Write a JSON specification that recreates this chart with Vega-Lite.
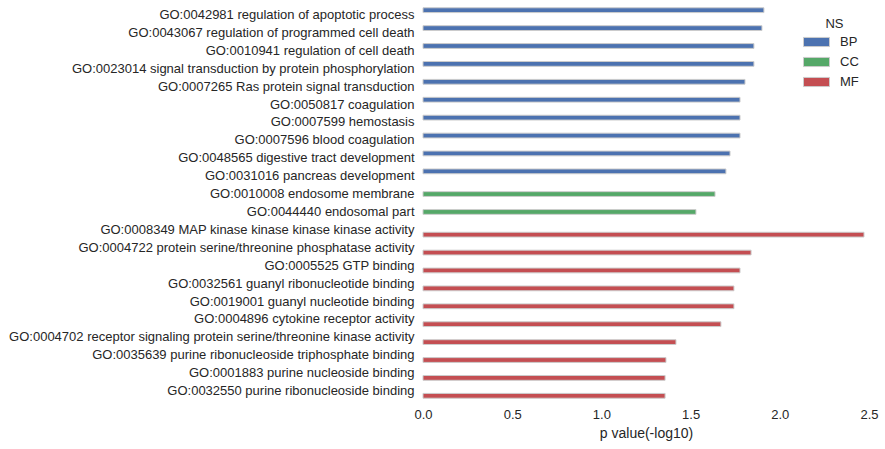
{
  "$schema": "https://vega.github.io/schema/vega-lite/v6.json",
  "width": 446,
  "height": 394,
  "autosize": "none",
  "padding": {"left": 423, "top": 6, "right": 16, "bottom": 49},
  "background": "white",
  "config": {
    "view": {"stroke": null},
    "font": "Liberation Sans",
    "axis": {"grid": false, "domain": false, "ticks": false, "labelColor": "#262626", "titleColor": "#262626", "labelFont": "Liberation Sans", "titleFont": "Liberation Sans"},
    "legend": {"labelFont": "Liberation Sans", "titleFont": "Liberation Sans"}
  },
  "data": {
    "values": [
      {"term": "GO:0042981 regulation of apoptotic process", "NS": "BP", "p": 1.911},
      {"term": "GO:0043067 regulation of programmed cell death", "NS": "BP", "p": 1.900},
      {"term": "GO:0010941 regulation of cell death", "NS": "BP", "p": 1.855},
      {"term": "GO:0023014 signal transduction by protein phosphorylation", "NS": "BP", "p": 1.855},
      {"term": "GO:0007265 Ras protein signal transduction", "NS": "BP", "p": 1.805},
      {"term": "GO:0050817 coagulation", "NS": "BP", "p": 1.777},
      {"term": "GO:0007599 hemostasis", "NS": "BP", "p": 1.777},
      {"term": "GO:0007596 blood coagulation", "NS": "BP", "p": 1.777},
      {"term": "GO:0048565 digestive tract development", "NS": "BP", "p": 1.721},
      {"term": "GO:0031016 pancreas development", "NS": "BP", "p": 1.698},
      {"term": "GO:0010008 endosome membrane", "NS": "CC", "p": 1.637},
      {"term": "GO:0044440 endosomal part", "NS": "CC", "p": 1.530},
      {"term": "GO:0008349 MAP kinase kinase kinase kinase activity", "NS": "MF", "p": 2.472},
      {"term": "GO:0004722 protein serine/threonine phosphatase activity", "NS": "MF", "p": 1.839},
      {"term": "GO:0005525 GTP binding", "NS": "MF", "p": 1.777},
      {"term": "GO:0032561 guanyl ribonucleotide binding", "NS": "MF", "p": 1.743},
      {"term": "GO:0019001 guanyl nucleotide binding", "NS": "MF", "p": 1.743},
      {"term": "GO:0004896 cytokine receptor activity", "NS": "MF", "p": 1.670},
      {"term": "GO:0004702 receptor signaling protein serine/threonine kinase activity", "NS": "MF", "p": 1.418},
      {"term": "GO:0035639 purine ribonucleoside triphosphate binding", "NS": "MF", "p": 1.362},
      {"term": "GO:0001883 purine nucleoside binding", "NS": "MF", "p": 1.357},
      {"term": "GO:0032550 purine ribonucleoside binding", "NS": "MF", "p": 1.357}
    ]
  },
  "mark": {"type": "bar", "stroke": "#cccccc", "strokeWidth": 1},
  "encoding": {
    "y": {
      "field": "term", "type": "nominal", "sort": null,
      "scale": {"paddingInner": 0, "paddingOuter": 0},
      "axis": {"title": null, "labelFontSize": 13, "labelPadding": 9, "labelLimit": 500}
    },
    "yOffset": {
      "field": "NS", "type": "nominal", "sort": ["BP", "CC", "MF"],
      "scale": {"domain": ["BP", "CC", "MF"], "paddingInner": 0, "paddingOuter": 0.375}
    },
    "x": {
      "field": "p", "type": "quantitative",
      "scale": {"domain": [0, 2.5], "nice": false},
      "axis": {"title": "p value(-log10)", "values": [0, 0.5, 1, 1.5, 2, 2.5], "format": ".1f", "labelFlush": false, "labelFontSize": 13, "labelPadding": 8, "titleFontSize": 14, "titleFontWeight": "normal", "titlePadding": 5}
    },
    "color": {
      "field": "NS", "type": "nominal",
      "scale": {"domain": ["BP", "CC", "MF"], "range": ["#4C72B0", "#55A868", "#C44E52"]},
      "legend": {
        "orient": "none", "legendX": 386.5, "legendY": 12,
        "title": "NS", "titleFontSize": 13, "titleFontWeight": "normal", "titleColor": "#262626", "titleAnchor": "middle", "titlePadding": 4,
        "labelFontSize": 13, "labelColor": "#262626", "labelOffset": 16.5,
        "symbolType": "M-2,-0.7h4v1.4h-4z", "symbolSize": 169, "symbolStrokeColor": "#cccccc", "symbolStrokeWidth": 1, "symbolOpacity": 1,
        "rowPadding": 6
      }
    }
  }
}
